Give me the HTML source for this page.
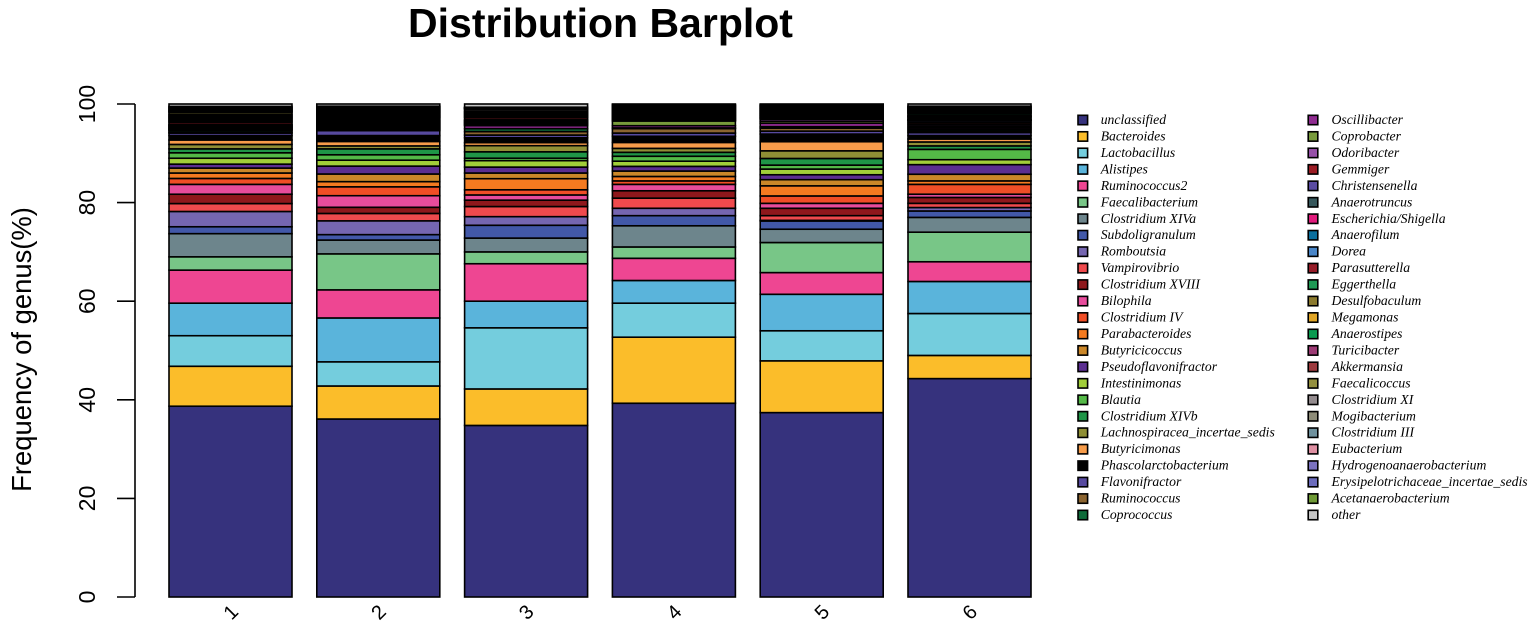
<!DOCTYPE html>
<html lang="en">
<head>
<meta charset="utf-8">
<title>Distribution Barplot</title>
<style>
html,body{margin:0;padding:0;background:#fff;width:1535px;height:624px;overflow:hidden}
svg{display:block}
text{fill:#000}
</style>
</head>
<body>
<svg id="chart" xmlns="http://www.w3.org/2000/svg" width="1535" height="624" viewBox="0 0 1535 624">
  <text x="600.5" y="37" text-anchor="middle" font-family="'Liberation Sans',sans-serif" font-weight="700" font-size="41">Distribution Barplot</text>
  <text transform="translate(31,349.5) rotate(-90)" text-anchor="middle" font-family="'Liberation Sans',sans-serif" font-size="27.4">Frequency of genus(%)</text>
  <g id="y-axis"></g>
  <g id="bars"></g>
  <g id="x-axis"></g>
  <g id="legend"></g>
</svg>
<script>
const genera = ["unclassified","Bacteroides","Lactobacillus","Alistipes","Ruminococcus2","Faecalibacterium","Clostridium XIVa","Subdoligranulum","Romboutsia","Vampirovibrio","Clostridium XVIII","Bilophila","Clostridium IV","Parabacteroides","Butyricicoccus","Pseudoflavonifractor","Intestinimonas","Blautia","Clostridium XIVb","Lachnospiracea_incertae_sedis","Butyricimonas","Phascolarctobacterium","Flavonifractor","Ruminococcus","Coprococcus","Oscillibacter","Coprobacter","Odoribacter","Gemmiger","Christensenella","Anaerotruncus","Escherichia/Shigella","Anaerofilum","Dorea","Parasutterella","Eggerthella","Desulfobaculum","Megamonas","Anaerostipes","Turicibacter","Akkermansia","Faecalicoccus","Clostridium XI","Mogibacterium","Clostridium III","Eubacterium","Hydrogenoanaerobacterium","Erysipelotrichaceae_incertae_sedis","Acetanaerobacterium","other"];
const colors = ["#36327d","#fbbd2a","#74cddd","#5ab4db","#ee4692","#78c687","#6d858c","#4258a8","#7566b0","#ef4a4d","#8f181c","#e74c9c","#f04e26","#f47a20","#cb8729","#5b2e90","#a1ce39","#54b947","#1f9547","#8f8f35","#f79c4a","#000000","#574a9f","#8b6430","#0f6b3a","#8f2b90","#789a3c","#9650a8","#9b1c24","#5a4ba2","#37585c","#e01b7c","#0b6f9d","#4a86c8","#961c28","#1f9a55","#8b7a2e","#e0a526","#0a9b50","#9c3a74","#9c3a3e","#94903f","#938b8e","#8e8c78","#6f919d","#de8fa2","#7b72c0","#6c6cbc","#6f9a36","#c4c4c4"];
const sampleLabels = ["1","2","3","4","5","6"];
const sample1 = [38.7,8.1,6.2,6.6,6.7,2.7,4.7,1.4,3.1,1.6,1.9,2.0,1.2,1.1,1.0,0.8,1.2,1.1,0.8,0.9,0.9,0.9,0.5,0.15,0.35,0.144,0.144,0.144,0.144,0.144,0.144,0.144,0.144,0.148,0.4,0.27,0.27,0.27,0.27,0.26,0.26,0.4,0.17,0.17,0.17,0.17,0.17,0.17,0.18,0.5];
const sample2 = [36.1,6.7,4.9,8.9,5.7,7.3,2.8,1.1,2.8,1.5,1.25,2.35,1.8,1.05,1.55,1.6,1.2,1.1,1.2,0.6,0.9,1.2,1.0,0.2,0.2,0.2,0.2,0.2,0.2,0.2,0.2,0.2,0.2,0.2,0.3,0.175,0.175,0.175,0.175,0.175,0.175,0.175,0.175,0.175,0.175,0.175,0.175,0.175,0.175,0.45];
const sample3 = [34.8,7.4,12.4,5.4,7.6,2.4,2.8,2.6,1.75,2.05,1.3,1.05,1.05,2.25,1.15,1.2,1.3,0.5,1.3,1.25,0.6,1.0,0.55,0.7,0.6,0.6,0.15,0.15,0.15,0.15,0.15,0.15,0.15,0.15,0.4,0.2,0.2,0.2,0.2,0.2,0.2,0.2,0.35,0.067,0.067,0.067,0.067,0.066,0.066,0.65];
const sample4 = [39.3,13.4,6.9,4.6,4.5,2.3,4.3,2.05,1.5,2.05,1.5,1.3,0.7,0.9,1.1,0.95,1.05,1.0,0.8,0.8,1.2,1.25,0.65,0.9,0.15,0.45,0.95,0.15,0.15,0.15,0.15,0.15,0.15,0.15,0.15,0.15,0.15,0.15,0.15,0.15,0.15,0.15,0.15,0.15,0.15,0.15,0.15,0.15,0.15,0.15];
const sample5 = [37.4,10.5,6.1,7.4,4.4,6.1,2.7,1.67,0.13,0.95,1.5,1.0,1.5,2.05,1.25,1.0,1.15,0.8,1.35,1.55,1.85,1.55,0.6,0.6,0.3,0.7,0.4,0.4,0.14,0.14,0.14,0.14,0.14,0.14,0.14,0.14,0.14,0.14,0.14,0.14,0.14,0.14,0.14,0.14,0.14,0.14,0.14,0.14,0.14,0.16];
const sample6 = [44.3,4.7,8.5,6.5,4.0,6.0,3.0,1.3,0.7,0.85,1.2,0.65,2.0,0.7,1.35,1.95,1.0,2.1,0.7,0.8,0.6,0.7,0.6,0.33,0.33,0.33,0.33,0.34,0.34,0.35,0.1,0.1,0.1,0.1,0.3,0.15,0.15,0.15,0.35,0.15,0.15,0.15,0.15,0.15,0.15,0.15,0.15,0.15,0.15,0.45];
const samples = [sample1,sample2,sample3,sample4,sample5,sample6];
const yTicks = [0,20,40,60,80,100];

const NS = "http://www.w3.org/2000/svg";
const yScale = function (v) { return 597 - v * 4.93; };
const barLeft = function (i) { return 169 + i * 147.8; };
const BAR_WIDTH = 123;
const LINE = 1.6;
const make = function (tag, parent) {
  const el = document.createElementNS(NS, tag);
  parent.appendChild(el);
  return el;
};

const yAxis = document.getElementById("y-axis");
const axisLine = make("line", yAxis);


axisLine.setAttribute("x1", 135);
axisLine.setAttribute("x2", 135);
axisLine.setAttribute("y1", yScale(yTicks[0]));
axisLine.setAttribute("y2", yScale(yTicks[yTicks.length - 1]));
axisLine.setAttribute("stroke", "#000");
axisLine.setAttribute("stroke-width", LINE);
yTicks.forEach(function (t) {
  const tick = make("line", yAxis);
  
  
  tick.setAttribute("x1", 117);
  tick.setAttribute("x2", 135);
  tick.setAttribute("y1", yScale(t));
  tick.setAttribute("y2", yScale(t));
  tick.setAttribute("stroke", "#000");
  tick.setAttribute("stroke-width", LINE);
  const label = make("text", yAxis);
  
  
  label.setAttribute("transform", "translate(95," + yScale(t) + ") rotate(-90)");
  label.setAttribute("text-anchor", "middle");
  label.setAttribute("font-family", "'Liberation Sans',sans-serif");
  label.setAttribute("font-size", "23");
  label.textContent = t;
});

const barsGroup = document.getElementById("bars");
samples.forEach(function (values, i) {
  const barGroup = make("g", barsGroup);
  
  
  let cumulative = 0;
  values.forEach(function (v, k) {
    const y0 = yScale(cumulative);
    cumulative += v;
    const y1 = yScale(cumulative);
    const seg = make("rect", barGroup);
    
    
    seg.setAttribute("x", barLeft(i));
    seg.setAttribute("y", y1);
    seg.setAttribute("width", BAR_WIDTH);
    seg.setAttribute("height", Math.max(0, y0 - y1));
    seg.setAttribute("fill", colors[k]);
    seg.setAttribute("stroke", "#000");
    seg.setAttribute("stroke-width", LINE);
  });
});

const xAxis = document.getElementById("x-axis");
sampleLabels.forEach(function (s, i) {
  const label = make("text", xAxis);
  
  
  label.setAttribute("transform", "translate(" + (barLeft(i) + BAR_WIDTH / 2 + 5) + ",617) rotate(-45)");
  label.setAttribute("text-anchor", "middle");
  label.setAttribute("font-family", "'Liberation Sans',sans-serif");
  label.setAttribute("font-size", "20");
  label.textContent = s;
});

const legend = document.getElementById("legend");
genera.forEach(function (name, k) {
  const col = k < 25 ? 0 : 1;
  const row = k % 25;
  const rowY = 120 + row * 16.46;
  const swatchX = col === 0 ? 1078 : 1308.2;
  const textX = col === 0 ? 1100.7 : 1331.5;
  const entry = make("g", legend);
  
  
  const swatch = make("rect", entry);
  
  
  swatch.setAttribute("x", swatchX);
  swatch.setAttribute("y", rowY - 4.7);
  swatch.setAttribute("width", 9.6);
  swatch.setAttribute("height", 9.4);
  swatch.setAttribute("fill", colors[k]);
  swatch.setAttribute("stroke", "#000");
  swatch.setAttribute("stroke-width", LINE);
  const label = make("text", entry);
  
  
  label.setAttribute("x", textX);
  label.setAttribute("y", rowY + 4);
  label.setAttribute("font-family", "'Liberation Serif',serif");
  label.setAttribute("font-style", "italic");
  label.setAttribute("font-size", "13.7");
  label.textContent = name;
});
</script>
</body>
</html>
